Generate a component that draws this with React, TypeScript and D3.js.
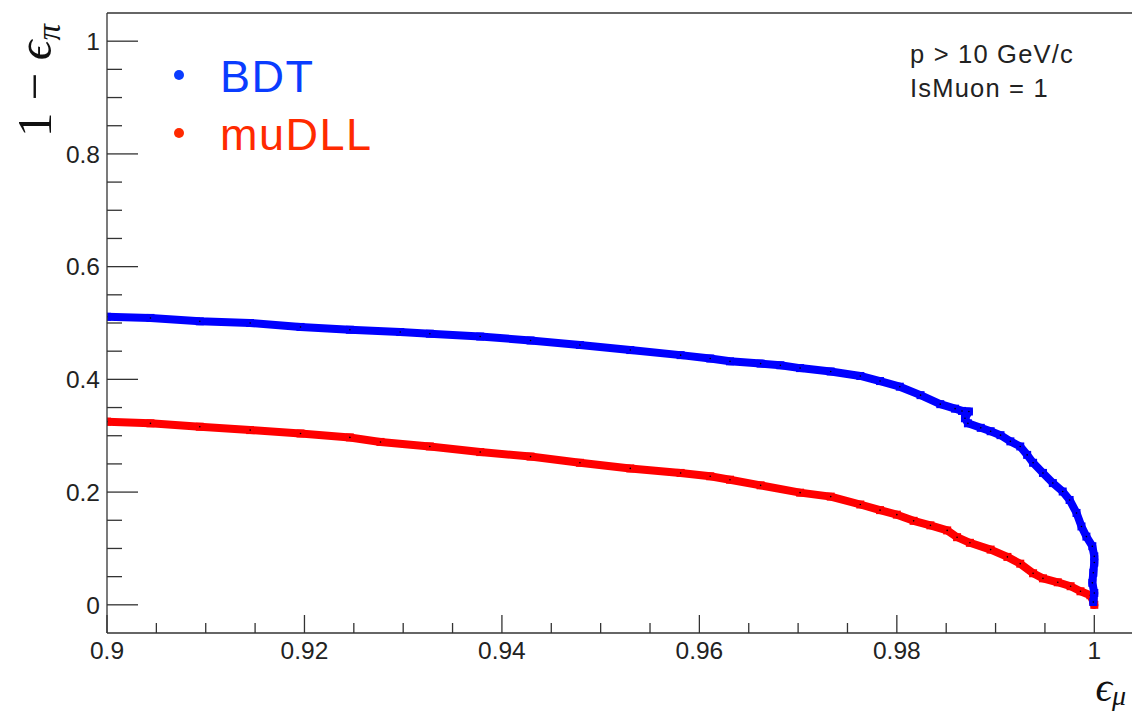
import React, { useEffect } from "react";
import * as d3 from "d3";

// ROC-style curves: muon efficiency vs pion rejection
const bdtEff = [
  0.9, 0.9044, 0.9094, 0.9145, 0.9196, 0.9246, 0.9297, 0.9327, 0.9378, 0.9429,
  0.9479, 0.953, 0.9581, 0.9611, 0.9631, 0.9662, 0.9682, 0.9702, 0.9733, 0.9763,
  0.9783, 0.9803, 0.9824, 0.9844, 0.9859, 0.9866, 0.9873, 0.9869, 0.9872, 0.9885,
  0.9895, 0.9905, 0.9915, 0.9925, 0.9932, 0.9938, 0.9948, 0.9958, 0.9968, 0.9975,
  0.9982, 0.9987, 0.9992, 0.9998, 1.0, 1.0, 0.9999, 0.9998, 1.0, 0.9999,
];
const bdtRej = [
  0.511, 0.509, 0.503, 0.5, 0.493, 0.488, 0.484, 0.481, 0.476, 0.469,
  0.461, 0.452, 0.443, 0.437, 0.432, 0.428, 0.425, 0.42, 0.414, 0.406,
  0.397, 0.387, 0.372, 0.356, 0.348, 0.344, 0.343, 0.331, 0.322, 0.314,
  0.308, 0.301, 0.29, 0.281, 0.266, 0.252, 0.234, 0.216, 0.201, 0.186,
  0.163, 0.139, 0.121, 0.104, 0.086, 0.075, 0.057, 0.039, 0.021, 0.005,
];
const dllEff = [
  0.9, 0.9044, 0.9094, 0.9145, 0.9196, 0.9246, 0.9277, 0.9327, 0.9378, 0.9429,
  0.9479, 0.953, 0.9581, 0.9611, 0.9631, 0.9662, 0.9702, 0.9733, 0.9763, 0.9783,
  0.98, 0.9817, 0.9834, 0.9851, 0.9861, 0.9874, 0.9895, 0.9912, 0.9925, 0.9938,
  0.9948, 0.9963, 0.9976, 0.9986, 0.9996, 0.9999, 1.0,
];
const dllRej = [
  0.325, 0.322, 0.316, 0.31, 0.304, 0.297, 0.289, 0.281, 0.271, 0.263,
  0.252, 0.242, 0.234, 0.228, 0.222, 0.212, 0.199, 0.192, 0.178, 0.168,
  0.16, 0.149, 0.141, 0.132, 0.12, 0.11, 0.098, 0.085, 0.073, 0.056,
  0.047, 0.04, 0.033, 0.024, 0.017, 0.006, 0.0,
];

const xMajorTicks = [0.9, 0.92, 0.94, 0.96, 0.98, 1];
const yMajorTicks = [0, 0.2, 0.4, 0.6, 0.8, 1];
const legendLabels = ["BDT", "muDLL"];
const legendColors = ["#0a3cff", "#ff2a00"];
const infoLines = ["p > 10 GeV/c", "IsMuon = 1"];

const W = 1132;
const H = 712;
const left = 107;
const top = 13;
const bottom = 633;

const x = d3.scaleLinear().domain([0.9, 1.005]).range([left, left + 1.05 * 987.3]);
const y = d3.scaleLinear().domain([-0.05, 1.05]).range([bottom, top]);

const xMinor = d3
  .range(0, 21)
  .map((i) => +(0.9 + i * 0.005).toFixed(4))
  .filter((v) => !xMajorTicks.some((m) => Math.abs(m - v) < 1e-6));
const yMinor = d3
  .range(1, 21)
  .map((i) => +(i * 0.05).toFixed(4))
  .filter((v) => !yMajorTicks.some((m) => Math.abs(m - v) < 1e-6));

const fmt = d3.format("~g");
const AXIS = "#333";
const SANS = "'Liberation Sans', Arial, Helvetica, sans-serif";
const SERIF = "'Liberation Serif', 'DejaVu Serif', 'Times New Roman', serif";

type Pt = [number, number];
const zip = (a: number[], b: number[]): Pt[] => a.map((v, i) => [v, b[i]]);

function Curve({ pts, color }: { pts: Pt[]; color: string }) {
  const line = d3.line<Pt>().x((d) => x(d[0])).y((d) => y(d[1]));
  return (
    <g clipPath="url(#plotClip)">
      <path d={line(pts) || ""} fill="none" stroke={color} strokeWidth={8} strokeLinejoin="round" strokeLinecap="round" />
      {pts.map((d, i) => (
        <rect key={"s" + i} x={x(d[0]) - 4} y={y(d[1]) - 4} width={8} height={8} fill={color} />
      ))}
      {pts.map((d, i) => (
        <circle key={"c" + i} cx={x(d[0])} cy={y(d[1])} r={0.8} fill="#000" />
      ))}
    </g>
  );
}

export default function App() {
  useEffect(() => {
    document.body.style.margin = "0";
  }, []);

  const bdt = zip(bdtEff, bdtRej);
  const dll = zip(dllEff, dllRej);

  return (
    <svg width={W} height={H} style={{ display: "block", background: "#fff" }}>
      <defs>
        <clipPath id="plotClip">
          <rect x={left} y={top} width={W - left + 20} height={bottom - top} />
        </clipPath>
      </defs>
      <rect x={0} y={0} width={W} height={H} fill="#fff" />

      <Curve pts={dll} color="#ff0000" />
      <Curve pts={bdt} color="#0000ff" />

      {/* frame */}
      <line x1={left} x2={W + 10} y1={top} y2={top} stroke={AXIS} strokeWidth={1.3} />
      <line x1={left} x2={W + 10} y1={bottom} y2={bottom} stroke={AXIS} strokeWidth={1.3} />
      <line x1={left} x2={left} y1={top} y2={bottom} stroke={AXIS} strokeWidth={1.3} />

      {/* x ticks */}
      {xMajorTicks.map((t) => (
        <g key={"xM" + t}>
          <line x1={x(t)} x2={x(t)} y1={bottom} y2={bottom - 18} stroke={AXIS} strokeWidth={1.3} />
          <text x={x(t)} y={659} textAnchor="middle" fontFamily={SANS} fontSize={24.5} fill="#222">
            {fmt(t)}
          </text>
        </g>
      ))}
      {xMinor.map((t) => (
        <line key={"xm" + t} x1={x(t)} x2={x(t)} y1={bottom} y2={bottom - 10} stroke={AXIS} strokeWidth={1.3} />
      ))}

      {/* y ticks */}
      {yMajorTicks.map((t) => (
        <g key={"yM" + t}>
          <line x1={left} x2={left + 31} y1={y(t)} y2={y(t)} stroke={AXIS} strokeWidth={1.3} />
          <text x={100} y={y(t)} dy="0.36em" textAnchor="end" fontFamily={SANS} fontSize={24.5} fill="#222">
            {fmt(t)}
          </text>
        </g>
      ))}
      {yMinor.map((t) => (
        <line key={"ym" + t} x1={left} x2={left + 15} y1={y(t)} y2={y(t)} stroke={AXIS} strokeWidth={1.3} />
      ))}

      {/* axis titles */}
      <text transform="translate(51,24) rotate(-90)" textAnchor="end" fontFamily={SERIF} fontSize={49} fill="#111">
        <tspan>1 − </tspan>
        <tspan fontStyle="italic">ϵ</tspan>
        <tspan fontStyle="italic" fontSize={33} dy={9}>π</tspan>
      </text>
      <text x={1126} y={701} textAnchor="end" fontFamily={SERIF} fontSize={41} fill="#111">
        <tspan fontStyle="italic">ϵ</tspan>
        <tspan fontStyle="italic" fontSize={28} dy={4}>μ</tspan>
      </text>

      {/* legend */}
      {legendLabels.map((lab, i) => {
        const col = legendColors[i];
        const base = 92 + i * 58;
        return (
          <g key={lab}>
            <circle cx={179} cy={base - 17} r={5} fill={col} />
            <text x={220} y={base} fontFamily={SANS} fontSize={45} letterSpacing={1.5} fill={col}>
              {lab}
            </text>
          </g>
        );
      })}

      {/* selection info */}
      {infoLines.map((s, i) => (
        <text key={s} x={910} y={63 + i * 34} fontFamily={SANS} fontSize={25.5} letterSpacing={1.2} fill="#222">
          {s}
        </text>
      ))}
    </svg>
  );
}
